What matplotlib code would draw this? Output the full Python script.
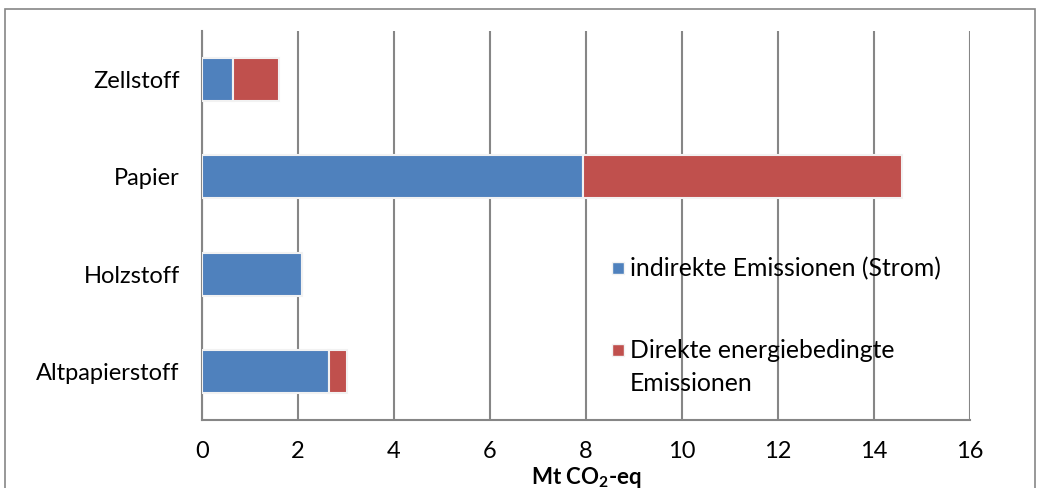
import matplotlib
matplotlib.use("Agg")
import matplotlib.pyplot as plt
from matplotlib.patches import Rectangle

categories = ["Altpapierstoff", "Holzstoff", "Papier", "Zellstoff"]
indirekt = [2.65, 2.08, 7.94, 0.65]
direkt = [0.37, 0.0, 6.64, 0.95]
series_labels = ["indirekte Emissionen (Strom)", "Direkte energiebedingte\nEmissionen"]
xticks = [0, 2, 4, 6, 8, 10, 12, 14, 16]

blue = "#4F81BD"
red = "#C0504D"
grid = "#868686"
plt.rcParams['font.family'] = ['Lato', 'DejaVu Sans']
plt.rcParams['mathtext.fontset'] = 'custom'
plt.rcParams['mathtext.rm'] = 'Lato:bold'

fig = plt.figure(figsize=(10.37, 4.88), dpi=100)
ax = fig.add_axes([202/1037, (488-420)/488, (970-202)/1037, (420-31)/488])

y = list(range(len(categories)))
ax.barh(y, indirekt, height=0.44, color=blue, edgecolor="#F2F2F2", linewidth=1.5, zorder=3)
ax.barh(y, direkt, left=indirekt, height=0.44, color=red, edgecolor="#F2F2F2", linewidth=1.5, zorder=3)

ax.set_xlim(0, 16)
ax.set_ylim(-0.5, 3.5)
ax.set_xticks(xticks)
ax.set_xticklabels([str(t) for t in xticks], fontsize=17)
ax.set_yticks(y)
ax.set_yticklabels(categories, fontsize=17)
ax.tick_params(axis='x', length=0, pad=15)
ax.tick_params(axis='y', length=0, pad=16)
ax.xaxis.grid(True, color=grid, linewidth=1.5, zorder=0)
ax.set_axisbelow(True)
for s in ["top", "right"]:
    ax.spines[s].set_visible(False)
ax.spines["left"].set_color(grid)
ax.spines["left"].set_linewidth(1.5)
ax.spines["bottom"].set_color(grid)
ax.spines["bottom"].set_linewidth(1.5)

fig.text(586/1037, 1 - 477/488, "Mt CO$_\\mathrm{2}$-eq", ha="center", va="center", fontsize=16, fontweight="bold")

# legend
for col, lab, yy in [(blue, series_labels[0], 268), (red, series_labels[1], 350)]:
    fig.patches.append(Rectangle((612/1037, 1 - (yy+6)/488), 12/1037, 12/488, transform=fig.transFigure,
                                 facecolor=col, edgecolor="#F2F2F2", linewidth=1))
    fig.text(630/1037, 1 - (yy-11)/488, lab, ha="left", va="top", fontsize=17.8, linespacing=1.55)

# outer frame
fig.patches.append(Rectangle((5/1037, -0.01), 1030/1037, 1 - 9/488 + 0.01, transform=fig.transFigure,
                             facecolor="none", edgecolor=grid, linewidth=1.2))

fig.savefig("out.png", dpi=100)
